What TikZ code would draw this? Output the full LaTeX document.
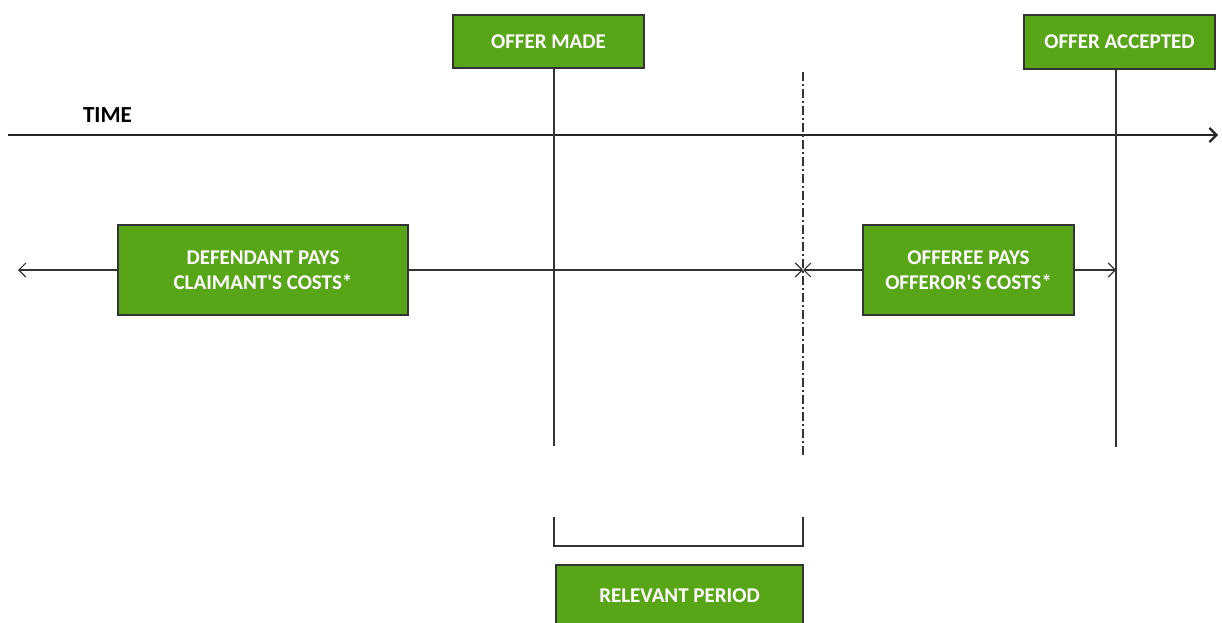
\documentclass[tikz,border=0pt]{standalone}
\usepackage{fontspec}
\setmainfont{Carlito}[Ligatures=TeXOff]
\usetikzlibrary{arrows.meta}
\definecolor{boxgreen}{HTML}{58A618}
\definecolor{edge}{HTML}{333333}
\begin{document}
\begin{tikzpicture}[x=1pt,y=-1pt,
  gbox/.style={draw=edge,line width=1.2pt,fill=boxgreen,text=white,font=\fontsize{21}{25}\selectfont\bfseries,align=center,inner sep=0pt},
  vline/.style={draw=black!80,line width=1.1pt},
  harrow/.style={draw=black!80,line width=1.1pt,-{Straight Barb[length=7pt,width=14pt,line width=1.1pt]}}
]
\clip (0,0) rectangle (1222,622);
\useasboundingbox (0,0) rectangle (1222,622);
% boxes
\node[gbox,minimum width=191pt,minimum height=53pt] (made) at (548.5,41.5) {OFFER MADE};
\node[gbox,minimum width=191pt,minimum height=54pt] (acc) at (1119.5,42) {OFFER ACCEPTED};
\node[gbox,minimum width=290pt,minimum height=90pt] (def) at (263,270) {DEFENDANT PAYS\\CLAIMANT'S COSTS*};
\node[gbox,minimum width=211pt,minimum height=90pt] (offe) at (968.5,270) {OFFEREE PAYS\\OFFEROR'S COSTS*};
\node[gbox,minimum width=247pt,minimum height=62pt] (rel) at (679.5,596) {RELEVANT PERIOD};
\node[font=\fontsize{23}{26}\selectfont\bfseries,inner sep=0pt] (time) at (107.5,115) {TIME};
% coordinates
\coordinate (tl) at (8,135);
\coordinate (tr) at (1218,135);
\coordinate (madeb) at (554,446);
\coordinate (acct) at (1116,69);
\coordinate (accb) at (1116,447);
\coordinate (dt) at (803,72);
\coordinate (db) at (803,455);
\coordinate (dmid) at (803,270);
\coordinate (accmid) at (1116,270);
\coordinate (leftend) at (18,270);
\coordinate (b1) at (554,517);
\coordinate (b2) at (554,546);
\coordinate (b3) at (803,546);
\coordinate (b4) at (803,517);
% time axis
\draw[draw=black!85,line width=1.3pt,-{Straight Barb[length=7pt,width=14pt,line width=2.2pt]}] (tl) -- (tr);
% vertical lines
\draw[vline] (made.south -| madeb) -- (madeb);
\draw[vline] (acct) -- (accb);
\draw[draw=black!80,line width=1.1pt,dash pattern=on 9pt off 3pt on 2pt off 3pt] (dt) -- (db);
% horizontal arrows
\draw[harrow] (def.west) -- (leftend);
\draw[harrow] (def.east) -- (dmid);
\draw[harrow] (offe.west) -- (dmid);
\draw[harrow] (offe.east) -- (accmid);
% bracket
\draw[draw=black!80,line width=1.3pt] (b1) -- (b2) -- (b3) -- (b4);
\end{tikzpicture}
\end{document}
